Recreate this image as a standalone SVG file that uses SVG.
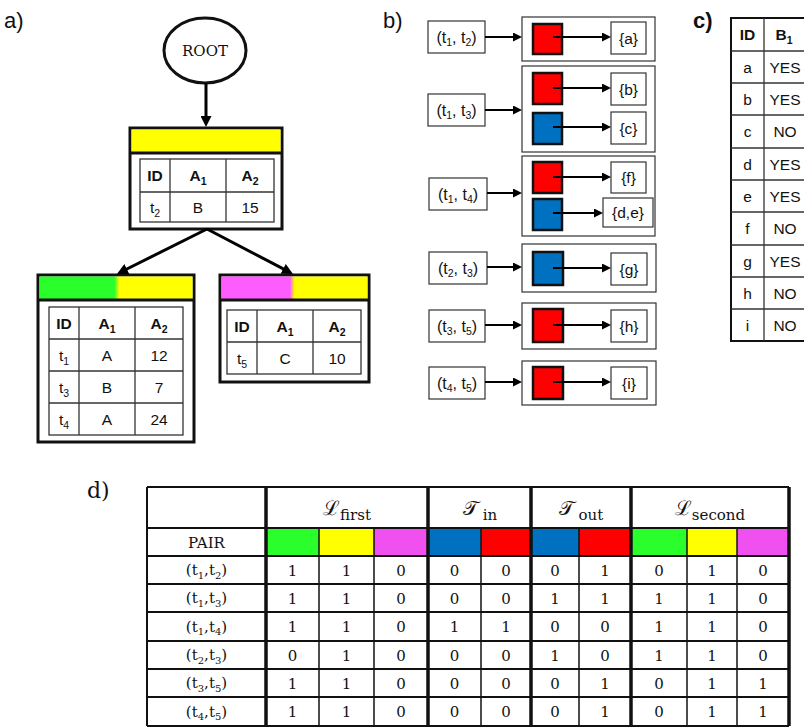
<svg xmlns="http://www.w3.org/2000/svg" width="804" height="728" viewBox="0 0 804 728">
<defs>
<style>
.lbl{font-family:"Liberation Sans",Arial,sans-serif;font-size:22px;fill:#111}
.ser{font-family:"DejaVu Serif","Liberation Serif",serif}
.t{font-family:"Liberation Sans",Arial,sans-serif;font-size:15.5px;text-anchor:middle;fill:#111}
.p{font-size:16px}
.b{font-weight:bold}
.sub{font-size:10.5px}
.s{font-family:"DejaVu Serif","Liberation Serif",serif;font-size:15px;text-anchor:middle;fill:#111}
.ssub{font-size:10px}
.node{fill:#fff;stroke:#111;stroke-width:3}
.grid{fill:none;stroke:#333;stroke-width:1.3}
.box{fill:#fff;stroke:#333;stroke-width:1.2}
.sq{stroke:#111;stroke-width:2.5}
.red{fill:#ff0000}
.blue{fill:#0070c0}
.conn line{stroke:#000;fill:none}
.ta line{stroke-width:3;marker-end:url(#ha)}
.tb line{stroke-width:2;marker-end:url(#hb)}
.dh{stroke:#111;stroke-width:2}
.dv{stroke:#111;stroke-width:1.5}
.dk{stroke:#111;stroke-width:3.5}
</style>
<linearGradient id="gy" x1="0" x2="1" y1="0" y2="0"><stop offset="0.49" stop-color="#2bff2b"/><stop offset="0.52" stop-color="#ffff00"/></linearGradient>
<linearGradient id="my" x1="0" x2="1" y1="0" y2="0"><stop offset="0.47" stop-color="#ff5cff"/><stop offset="0.50" stop-color="#ffff00"/></linearGradient>
<marker id="ha" viewBox="0 0 10 10" refX="5" refY="5" markerWidth="11" markerHeight="11" markerUnits="userSpaceOnUse" orient="auto"><path d="M0,0L10,5L0,10z" fill="#000"/></marker>
<marker id="hb" viewBox="0 0 10 10" refX="5" refY="5" markerWidth="9" markerHeight="9" markerUnits="userSpaceOnUse" orient="auto"><path d="M0,0L10,5L0,10z" fill="#000"/></marker>
</defs>
<rect width="804" height="728" fill="#fff"/>

<!-- labels -->
<text class="lbl" x="4" y="28">a)</text>
<text class="lbl" x="383" y="28">b)</text>
<text class="lbl b" x="693" y="28">c)</text>
<text class="lbl ser" x="87" y="498" font-size="21">d)</text>

<!-- part a -->
<g id="root">
<ellipse cx="205" cy="50.5" rx="41" ry="32.5" fill="#fff" stroke="#111" stroke-width="3"/>
<text class="s" x="205" y="56">ROOT</text>
</g>
<g id="node-yellow">
<rect class="node" x="130" y="128" width="152" height="101"/>
<rect x="131.5" y="129.5" width="149" height="23.5" fill="#ffff00"/>
<line x1="130" y1="153" x2="282" y2="153" stroke="#111" stroke-width="3"/>
<rect class="grid" x="140" y="159" width="134" height="63"/>
<line class="grid" x1="140" y1="192" x2="274" y2="192"/>
<line class="grid" x1="170" y1="159" x2="170" y2="222"/>
<line class="grid" x1="226" y1="159" x2="226" y2="222"/>
<text class="t b" x="155" y="181">ID</text>
<text class="t b" x="198" y="181">A<tspan class="sub" dy="3.5">1</tspan></text>
<text class="t b" x="250" y="181">A<tspan class="sub" dy="3.5">2</tspan></text>
<text class="t" x="155" y="213">t<tspan class="sub" dy="3.5">2</tspan></text>
<text class="t" x="198" y="213">B</text>
<text class="t" x="250" y="213">15</text>
</g>
<g id="node-green-yellow">
<rect class="node" x="38" y="275" width="156" height="167"/>
<rect x="39.5" y="276.5" width="153" height="23.5" fill="url(#gy)"/>
<line x1="38" y1="300" x2="194" y2="300" stroke="#111" stroke-width="3"/>
<rect class="grid" x="49" y="307" width="134" height="128"/>
<line class="grid" x1="49" y1="339" x2="183" y2="339"/>
<line class="grid" x1="49" y1="371" x2="183" y2="371"/>
<line class="grid" x1="49" y1="403" x2="183" y2="403"/>
<line class="grid" x1="79" y1="307" x2="79" y2="435"/>
<line class="grid" x1="135" y1="307" x2="135" y2="435"/>
<text class="t b" x="64" y="329">ID</text>
<text class="t b" x="107" y="329">A<tspan class="sub" dy="3.5">1</tspan></text>
<text class="t b" x="159" y="329">A<tspan class="sub" dy="3.5">2</tspan></text>
<text class="t" x="64" y="361">t<tspan class="sub" dy="3.5">1</tspan></text>
<text class="t" x="107" y="361">A</text>
<text class="t" x="159" y="361">12</text>
<text class="t" x="64" y="393">t<tspan class="sub" dy="3.5">3</tspan></text>
<text class="t" x="107" y="393">B</text>
<text class="t" x="159" y="393">7</text>
<text class="t" x="64" y="425">t<tspan class="sub" dy="3.5">4</tspan></text>
<text class="t" x="107" y="425">A</text>
<text class="t" x="159" y="425">24</text>
</g>
<g id="node-magenta-yellow">
<rect class="node" x="220" y="275" width="149" height="107"/>
<rect x="221.5" y="276.5" width="146" height="23.5" fill="url(#my)"/>
<line x1="220" y1="300" x2="369" y2="300" stroke="#111" stroke-width="3"/>
<rect class="grid" x="227" y="310" width="134" height="64"/>
<line class="grid" x1="227" y1="342" x2="361" y2="342"/>
<line class="grid" x1="257" y1="310" x2="257" y2="374"/>
<line class="grid" x1="313" y1="310" x2="313" y2="374"/>
<text class="t b" x="242" y="332">ID</text>
<text class="t b" x="285" y="332">A<tspan class="sub" dy="3.5">1</tspan></text>
<text class="t b" x="337" y="332">A<tspan class="sub" dy="3.5">2</tspan></text>
<text class="t" x="242" y="364">t<tspan class="sub" dy="3.5">5</tspan></text>
<text class="t" x="285" y="364">C</text>
<text class="t" x="337" y="364">10</text>
</g>

<!-- part b -->
<g id="pair-t1t2">
<rect class="box" x="428" y="21" width="57" height="32"/>
<text class="t p" x="456.5" y="42.5">(t<tspan class="sub" dy="3.5">1</tspan><tspan dy="-3.5">, t</tspan><tspan class="sub" dy="3.5">2</tspan><tspan dy="-3.5">)</tspan></text>
</g>
<g id="group-t1t2">
<rect class="box" x="522" y="17" width="133" height="44"/>
<rect class="sq red" x="533" y="24" width="29" height="30"/>
<rect class="box" x="611" y="22" width="35" height="32"/>
<text class="t" x="628.5" y="43.5">{a}</text>
</g>
<g id="pair-t1t3">
<rect class="box" x="428" y="94" width="57" height="32"/>
<text class="t p" x="456.5" y="115.5">(t<tspan class="sub" dy="3.5">1</tspan><tspan dy="-3.5">, t</tspan><tspan class="sub" dy="3.5">3</tspan><tspan dy="-3.5">)</tspan></text>
</g>
<g id="group-t1t3">
<rect class="box" x="522" y="66" width="133" height="86"/>
<rect class="sq red" x="533" y="73" width="29" height="31"/>
<rect class="sq blue" x="533" y="113" width="29" height="31"/>
<rect class="box" x="611" y="73" width="35" height="32"/>
<text class="t" x="628.5" y="94.5">{b}</text>
<rect class="box" x="611" y="112" width="35" height="32"/>
<text class="t" x="628.5" y="133.5">{c}</text>
</g>
<g id="pair-t1t4">
<rect class="box" x="429" y="178" width="58" height="32"/>
<text class="t p" x="458" y="199.5">(t<tspan class="sub" dy="3.5">1</tspan><tspan dy="-3.5">, t</tspan><tspan class="sub" dy="3.5">4</tspan><tspan dy="-3.5">)</tspan></text>
</g>
<g id="group-t1t4">
<rect class="box" x="522" y="156" width="133" height="80"/>
<rect class="sq red" x="533" y="162" width="29" height="31"/>
<rect class="sq blue" x="533" y="199" width="29" height="31"/>
<rect class="box" x="611" y="162" width="35" height="31"/>
<text class="t" x="628.5" y="183">{f}</text>
<rect class="box" x="603" y="198" width="50" height="29"/>
<text class="t" x="628" y="218">{d,e}</text>
</g>
<g id="pair-t2t3">
<rect class="box" x="429" y="252" width="58" height="32"/>
<text class="t p" x="458" y="273.5">(t<tspan class="sub" dy="3.5">2</tspan><tspan dy="-3.5">, t</tspan><tspan class="sub" dy="3.5">3</tspan><tspan dy="-3.5">)</tspan></text>
</g>
<g id="group-t2t3">
<rect class="box" x="522" y="244" width="134" height="48"/>
<rect class="sq blue" x="533" y="252" width="30" height="33"/>
<rect class="box" x="611" y="253" width="36" height="32"/>
<text class="t" x="629" y="274.5">{g}</text>
</g>
<g id="pair-t3t5">
<rect class="box" x="429" y="310" width="56" height="32"/>
<text class="t p" x="457" y="331.5">(t<tspan class="sub" dy="3.5">3</tspan><tspan dy="-3.5">, t</tspan><tspan class="sub" dy="3.5">5</tspan><tspan dy="-3.5">)</tspan></text>
</g>
<g id="group-t3t5">
<rect class="box" x="522" y="303" width="134" height="46"/>
<rect class="sq red" x="533" y="309" width="30" height="33"/>
<rect class="box" x="611" y="310" width="36" height="32"/>
<text class="t" x="629" y="331.5">{h}</text>
</g>
<g id="pair-t4t5">
<rect class="box" x="429" y="367" width="56" height="32"/>
<text class="t p" x="457" y="388.5">(t<tspan class="sub" dy="3.5">4</tspan><tspan dy="-3.5">, t</tspan><tspan class="sub" dy="3.5">5</tspan><tspan dy="-3.5">)</tspan></text>
</g>
<g id="group-t4t5">
<rect class="box" x="522" y="361" width="134" height="44"/>
<rect class="sq red" x="533" y="367" width="30" height="32"/>
<rect class="box" x="611" y="367" width="36" height="32"/>
<text class="t" x="629" y="388.5">{i}</text>
</g>

<!-- part c -->
<g id="table-c">
<rect x="731" y="18" width="76" height="323" fill="#fff" stroke="#111" stroke-width="2"/>
<line class="grid" x1="764" y1="18" x2="764" y2="341"/>
<g class="grid">
<line x1="731" y1="51" x2="806" y2="51"/><line x1="731" y1="83" x2="806" y2="83"/>
<line x1="731" y1="115" x2="806" y2="115"/><line x1="731" y1="148" x2="806" y2="148"/>
<line x1="731" y1="180" x2="806" y2="180"/><line x1="731" y1="212" x2="806" y2="212"/>
<line x1="731" y1="245" x2="806" y2="245"/><line x1="731" y1="277" x2="806" y2="277"/>
<line x1="731" y1="309" x2="806" y2="309"/>
</g>
<text class="t b" x="747.5" y="40">ID</text>
<text class="t b" x="784" y="40">B<tspan class="sub" dy="3.5">1</tspan></text>
<text class="t" x="747.5" y="72.5">a</text><text class="t" x="785" y="72.5">YES</text>
<text class="t" x="747.5" y="104.5">b</text><text class="t" x="785" y="104.5">YES</text>
<text class="t" x="747.5" y="137">c</text><text class="t" x="785" y="137">NO</text>
<text class="t" x="747.5" y="169.5">d</text><text class="t" x="785" y="169.5">YES</text>
<text class="t" x="747.5" y="201.5">e</text><text class="t" x="785" y="201.5">YES</text>
<text class="t" x="747.5" y="234">f</text><text class="t" x="785" y="234">NO</text>
<text class="t" x="747.5" y="266.5">g</text><text class="t" x="785" y="266.5">YES</text>
<text class="t" x="747.5" y="298.5">h</text><text class="t" x="785" y="298.5">NO</text>
<text class="t" x="747.5" y="330.5">i</text><text class="t" x="785" y="330.5">NO</text>
</g>

<!-- part d -->
<g id="table-d">
<rect x="147" y="487" width="642" height="239" fill="#fff"/>
<rect x="266" y="528" width="53" height="28" fill="#2bff2b"/>
<rect x="319" y="528" width="55" height="28" fill="#ffff00"/>
<rect x="374" y="528" width="54" height="28" fill="#f050f0"/>
<rect x="428" y="528" width="53" height="28" fill="#0070c0"/>
<rect x="481" y="528" width="50" height="28" fill="#ff0000"/>
<rect x="531" y="528" width="48" height="28" fill="#0070c0"/>
<rect x="579" y="528" width="52" height="28" fill="#ff0000"/>
<rect x="631" y="528" width="56" height="28" fill="#2bff2b"/>
<rect x="687" y="528" width="50" height="28" fill="#ffff00"/>
<rect x="737" y="528" width="52" height="28" fill="#f050f0"/>
<g class="dh">
<line x1="147" y1="487" x2="789" y2="487"/><line x1="147" y1="528" x2="789" y2="528"/>
<line x1="147" y1="556" x2="789" y2="556"/><line x1="147" y1="584" x2="789" y2="584"/>
<line x1="147" y1="612" x2="789" y2="612"/><line x1="147" y1="641" x2="789" y2="641"/>
<line x1="147" y1="669" x2="789" y2="669"/><line x1="147" y1="697" x2="789" y2="697"/>
<line x1="147" y1="726" x2="789" y2="726"/>
<line x1="147" y1="487" x2="147" y2="726"/>
</g>
<g class="dv">
<line x1="319" y1="528" x2="319" y2="726"/><line x1="374" y1="528" x2="374" y2="726"/>
<line x1="481" y1="528" x2="481" y2="726"/><line x1="579" y1="528" x2="579" y2="726"/>
<line x1="687" y1="528" x2="687" y2="726"/><line x1="737" y1="528" x2="737" y2="726"/>
</g>
<g class="dk">
<line x1="266" y1="487" x2="266" y2="726"/><line x1="428" y1="487" x2="428" y2="726"/>
<line x1="531" y1="487" x2="531" y2="726"/><line x1="631" y1="487" x2="631" y2="726"/>
<line x1="789" y1="487" x2="789" y2="726"/>
</g>
<text class="s" x="347" y="515"><tspan font-size="20">ℒ</tspan><tspan font-size="15" dy="5">first</tspan></text>
<text class="s" x="480" y="515"><tspan font-size="20">𝒯</tspan><tspan font-size="15" dy="5"> in</tspan></text>
<text class="s" x="581" y="515"><tspan font-size="20">𝒯</tspan><tspan font-size="15" dy="5"> out</tspan></text>
<text class="s" x="710" y="515"><tspan font-size="20">ℒ</tspan><tspan font-size="15" dy="5">second</tspan></text>
<text class="s" x="206.5" y="547.5">PAIR</text>
<g class="s">
<text x="206.5" y="575">(t<tspan class="ssub" dy="3.5">1</tspan><tspan dy="-3.5">,t</tspan><tspan class="ssub" dy="3.5">2</tspan><tspan dy="-3.5">)</tspan></text>
<text x="206.5" y="603">(t<tspan class="ssub" dy="3.5">1</tspan><tspan dy="-3.5">,t</tspan><tspan class="ssub" dy="3.5">3</tspan><tspan dy="-3.5">)</tspan></text>
<text x="206.5" y="631.5">(t<tspan class="ssub" dy="3.5">1</tspan><tspan dy="-3.5">,t</tspan><tspan class="ssub" dy="3.5">4</tspan><tspan dy="-3.5">)</tspan></text>
<text x="206.5" y="660">(t<tspan class="ssub" dy="3.5">2</tspan><tspan dy="-3.5">,t</tspan><tspan class="ssub" dy="3.5">3</tspan><tspan dy="-3.5">)</tspan></text>
<text x="206.5" y="688">(t<tspan class="ssub" dy="3.5">3</tspan><tspan dy="-3.5">,t</tspan><tspan class="ssub" dy="3.5">5</tspan><tspan dy="-3.5">)</tspan></text>
<text x="206.5" y="716.5">(t<tspan class="ssub" dy="3.5">4</tspan><tspan dy="-3.5">,t</tspan><tspan class="ssub" dy="3.5">5</tspan><tspan dy="-3.5">)</tspan></text>
</g>
<g class="s">
<text x="292.5" y="575.5">1</text><text x="346.5" y="575.5">1</text><text x="401" y="575.5">0</text><text x="454.5" y="575.5">0</text><text x="506" y="575.5">0</text><text x="555" y="575.5">0</text><text x="605" y="575.5">1</text><text x="659" y="575.5">0</text><text x="712" y="575.5">1</text><text x="763" y="575.5">0</text>
<text x="292.5" y="603.5">1</text><text x="346.5" y="603.5">1</text><text x="401" y="603.5">0</text><text x="454.5" y="603.5">0</text><text x="506" y="603.5">0</text><text x="555" y="603.5">1</text><text x="605" y="603.5">1</text><text x="659" y="603.5">1</text><text x="712" y="603.5">1</text><text x="763" y="603.5">0</text>
<text x="292.5" y="632">1</text><text x="346.5" y="632">1</text><text x="401" y="632">0</text><text x="454.5" y="632">1</text><text x="506" y="632">1</text><text x="555" y="632">0</text><text x="605" y="632">0</text><text x="659" y="632">1</text><text x="712" y="632">1</text><text x="763" y="632">0</text>
<text x="292.5" y="660.5">0</text><text x="346.5" y="660.5">1</text><text x="401" y="660.5">0</text><text x="454.5" y="660.5">0</text><text x="506" y="660.5">0</text><text x="555" y="660.5">1</text><text x="605" y="660.5">0</text><text x="659" y="660.5">1</text><text x="712" y="660.5">1</text><text x="763" y="660.5">0</text>
<text x="292.5" y="688.5">1</text><text x="346.5" y="688.5">1</text><text x="401" y="688.5">0</text><text x="454.5" y="688.5">0</text><text x="506" y="688.5">0</text><text x="555" y="688.5">0</text><text x="605" y="688.5">1</text><text x="659" y="688.5">0</text><text x="712" y="688.5">1</text><text x="763" y="688.5">1</text>
<text x="292.5" y="717">1</text><text x="346.5" y="717">1</text><text x="401" y="717">0</text><text x="454.5" y="717">0</text><text x="506" y="717">0</text><text x="555" y="717">0</text><text x="605" y="717">1</text><text x="659" y="717">0</text><text x="712" y="717">1</text><text x="763" y="717">1</text>
</g>
</g>

<!-- connectors -->
<g id="connectors" class="conn">
<g class="ta">
<line x1="206" y1="83" x2="206" y2="121.5"/>
<line x1="207" y1="229" x2="121.9" y2="271.5"/>
<line x1="207" y1="229" x2="288.1" y2="271.4"/>
</g>
<g class="tb">
<line x1="485" y1="37" x2="517.5" y2="37"/>
<line x1="553" y1="37" x2="606.5" y2="37"/>
<line x1="485" y1="110" x2="517.5" y2="110"/>
<line x1="553" y1="88" x2="606.5" y2="88"/>
<line x1="553" y1="127" x2="606.5" y2="127"/>
<line x1="487" y1="193" x2="517.5" y2="193"/>
<line x1="553" y1="177" x2="606.5" y2="177"/>
<line x1="553" y1="213" x2="598.5" y2="213"/>
<line x1="487" y1="267" x2="517.5" y2="267"/>
<line x1="553" y1="268" x2="606.5" y2="268"/>
<line x1="485" y1="325" x2="517.5" y2="325"/>
<line x1="553" y1="325" x2="606.5" y2="325"/>
<line x1="485" y1="382" x2="517.5" y2="382"/>
<line x1="553" y1="382" x2="606.5" y2="382"/>
</g>
</g>
</svg>
